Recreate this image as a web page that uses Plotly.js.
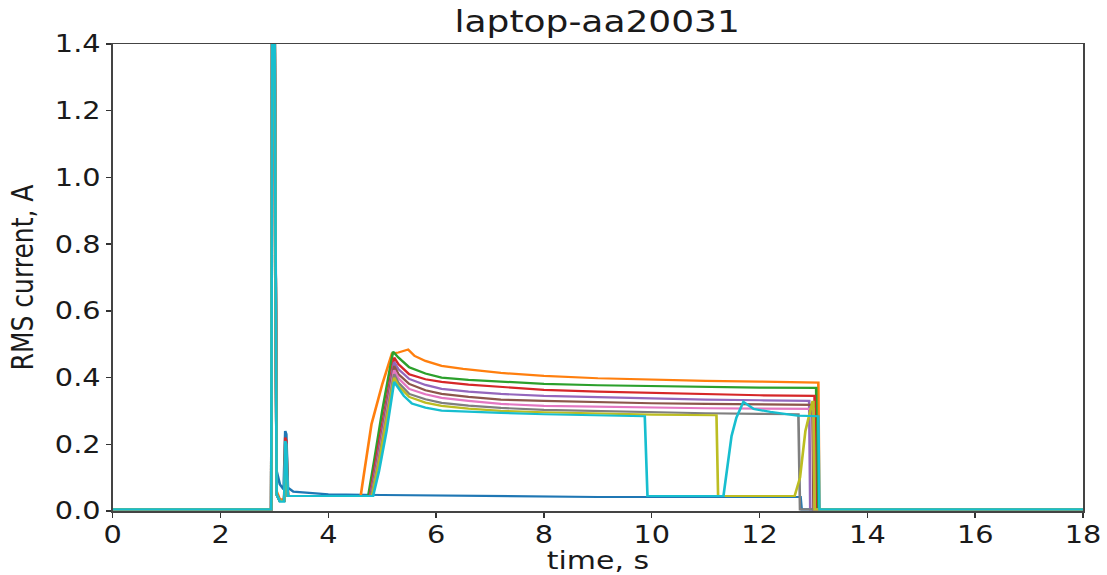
<!DOCTYPE html>
<html>
<head>
<meta charset="utf-8">
<script src="https://cdn.plot.ly/plotly-3.0.1.min.js"></script>
<style>
html,body{margin:0;padding:0;background:#fff;overflow:hidden;}
#wrap{width:1107px;height:575px;overflow:hidden;}
#chart{width:923px;height:575px;transform:scaleX(1.19935);transform-origin:0 0;}
</style>
</head>
<body>
<div id="wrap"><div id="chart"></div></div>
<script>
// ---- data (time in s, RMS current in A) ----
var seriesNames = ["blue","orange","green","red","purple","brown","pink","gray","olive","cyan"];
var seriesColors = ["#1f77b4","#ff7f0e","#2ca02c","#d62728","#9467bd","#8c564b","#e377c2","#7f7f7f","#bcbd22","#17becf"];

var t_blue = [0, 2.94, 2.96, 3.0, 3.04, 3.1, 3.17, 3.2, 3.22, 3.25, 3.35, 3.6, 4.0, 5.0, 6.0, 7.0, 8.0, 9.0, 10.0, 11.0, 12.0, 12.76, 12.78, 18];
var i_blue = [0.005, 0.005, 1.6, 1.6, 0.12, 0.08, 0.065, 0.24, 0.23, 0.07, 0.058, 0.055, 0.05, 0.048, 0.046, 0.045, 0.043, 0.042, 0.042, 0.042, 0.042, 0.042, 0.005, 0.005];

var t_orange = [0, 2.94, 2.96, 3.0, 3.04, 3.1, 3.18, 3.2, 3.22, 3.25, 3.4, 4.0, 4.6, 4.65, 4.8, 5.0, 5.18, 5.3, 5.42, 5.48, 5.6, 5.8, 6.1, 6.5, 7.2, 8.0, 9.0, 10.0, 11.0, 12.0, 12.5, 13.09, 13.11, 18];
var i_orange = [0.005, 0.005, 1.6, 1.6, 0.06, 0.035, 0.035, 0.2, 0.19, 0.045, 0.045, 0.045, 0.045, 0.1, 0.26, 0.38, 0.472, 0.475, 0.482, 0.484, 0.465, 0.45, 0.435, 0.426, 0.414, 0.405, 0.398, 0.393, 0.39, 0.388, 0.387, 0.385, 0.005, 0.005];

var t_green = [0, 2.94, 2.96, 3.0, 3.04, 3.1, 3.18, 3.2, 3.22, 3.25, 3.4, 4.0, 4.74, 4.85, 5.0, 5.2, 5.3, 5.5, 5.8, 6.1, 6.6, 7.2, 8.0, 9.0, 10.0, 11.0, 12.0, 13.05, 13.07, 18];
var i_green = [0.005, 0.005, 1.6, 1.6, 0.05, 0.03, 0.03, 0.17, 0.16, 0.045, 0.045, 0.045, 0.045, 0.15, 0.3, 0.478, 0.46, 0.431, 0.412, 0.40, 0.393, 0.388, 0.381, 0.377, 0.374, 0.372, 0.37, 0.369, 0.005, 0.005];

var t_red = [0, 2.94, 2.96, 3.0, 3.04, 3.1, 3.18, 3.2, 3.22, 3.25, 3.4, 4.0, 4.77, 4.88, 5.05, 5.22, 5.3, 5.5, 5.8, 6.1, 6.6, 7.2, 8.0, 9.0, 10.0, 11.0, 12.0, 13.02, 13.04, 18];
var i_red = [0.005, 0.005, 1.6, 1.6, 0.05, 0.03, 0.03, 0.22, 0.21, 0.045, 0.045, 0.045, 0.045, 0.15, 0.3, 0.46, 0.44, 0.41, 0.395, 0.387, 0.379, 0.372, 0.363, 0.358, 0.354, 0.35, 0.347, 0.345, 0.005, 0.005];

var t_purple = [0, 2.94, 2.96, 3.0, 3.04, 3.1, 3.18, 3.2, 3.22, 3.25, 3.4, 4.0, 4.78, 4.9, 5.05, 5.22, 5.3, 5.5, 5.8, 6.1, 6.6, 7.2, 8.0, 9.0, 10.0, 11.0, 12.0, 12.92, 12.94, 18];
var i_purple = [0.005, 0.005, 1.6, 1.6, 0.05, 0.03, 0.03, 0.15, 0.14, 0.045, 0.045, 0.045, 0.045, 0.15, 0.29, 0.447, 0.425, 0.396, 0.378, 0.366, 0.358, 0.351, 0.345, 0.341, 0.337, 0.334, 0.332, 0.33, 0.005, 0.005];

var t_brown = [0, 2.94, 2.96, 3.0, 3.04, 3.1, 3.18, 3.2, 3.22, 3.25, 3.4, 4.0, 4.79, 4.9, 5.05, 5.22, 5.3, 5.5, 5.8, 6.1, 6.6, 7.2, 8.0, 9.0, 10.0, 11.0, 12.0, 12.98, 13.0, 18];
var i_brown = [0.005, 0.005, 1.6, 1.6, 0.05, 0.03, 0.03, 0.16, 0.15, 0.045, 0.045, 0.045, 0.045, 0.14, 0.28, 0.435, 0.41, 0.381, 0.362, 0.351, 0.342, 0.334, 0.33, 0.326, 0.323, 0.321, 0.319, 0.318, 0.005, 0.005];

var t_pink = [0, 2.94, 2.96, 3.0, 3.04, 3.1, 3.18, 3.2, 3.22, 3.25, 3.4, 4.0, 4.8, 4.9, 5.05, 5.22, 5.3, 5.5, 5.8, 6.1, 6.6, 7.2, 8.0, 9.0, 10.0, 11.0, 12.0, 13.0, 13.02, 18];
var i_pink = [0.005, 0.005, 1.6, 1.6, 0.05, 0.03, 0.03, 0.14, 0.13, 0.045, 0.045, 0.045, 0.045, 0.13, 0.27, 0.422, 0.398, 0.366, 0.35, 0.339, 0.33, 0.321, 0.315, 0.312, 0.31, 0.308, 0.307, 0.306, 0.005, 0.005];

var t_gray = [0, 2.94, 2.96, 3.0, 3.04, 3.1, 3.18, 3.2, 3.22, 3.25, 3.4, 4.0, 4.8, 4.91, 5.06, 5.22, 5.3, 5.5, 5.8, 6.1, 6.6, 7.2, 8.0, 9.0, 10.0, 11.0, 12.0, 12.72, 12.75, 18];
var i_gray = [0.005, 0.005, 1.6, 1.6, 0.05, 0.03, 0.03, 0.13, 0.12, 0.045, 0.045, 0.045, 0.045, 0.13, 0.26, 0.41, 0.385, 0.351, 0.335, 0.324, 0.316, 0.309, 0.303, 0.299, 0.296, 0.293, 0.291, 0.29, 0.005, 0.005];

var t_olive = [0, 2.94, 2.96, 3.0, 3.04, 3.1, 3.18, 3.2, 3.22, 3.25, 3.4, 4.0, 4.81, 4.92, 5.07, 5.22, 5.3, 5.5, 5.8, 6.1, 6.6, 7.2, 8.0, 9.0, 10.0, 11.2, 11.23, 12.0, 12.65, 12.75, 12.85, 12.98, 13.0, 13.02, 18];
var i_olive = [0.005, 0.005, 1.6, 1.6, 0.05, 0.03, 0.03, 0.12, 0.11, 0.045, 0.045, 0.045, 0.045, 0.13, 0.26, 0.40, 0.375, 0.342, 0.325, 0.315, 0.307, 0.30, 0.296, 0.292, 0.289, 0.287, 0.045, 0.045, 0.045, 0.1, 0.24, 0.327, 0.327, 0.005, 0.005];

var t_cyan = [0, 2.94, 2.96, 3.0, 3.04, 3.1, 3.18, 3.2, 3.22, 3.25, 3.4, 4.0, 4.83, 4.94, 5.08, 5.22, 5.3, 5.4, 5.55, 5.8, 6.1, 6.6, 7.2, 8.0, 9.0, 9.87, 9.92, 11.0, 11.33, 11.48, 11.57, 11.7, 11.89, 12.2, 12.7, 13.09, 13.11, 18];
var i_cyan = [0.005, 0.005, 1.6, 1.6, 0.05, 0.028, 0.028, 0.21, 0.2, 0.045, 0.045, 0.045, 0.045, 0.12, 0.24, 0.387, 0.37, 0.345, 0.322, 0.31, 0.301, 0.297, 0.294, 0.29, 0.287, 0.284, 0.045, 0.045, 0.045, 0.225, 0.28, 0.327, 0.306, 0.297, 0.286, 0.284, 0.005, 0.005];

var xTicks = [0, 2, 4, 6, 8, 10, 12, 14, 16, 18];
var yTicks = [0.0, 0.2, 0.4, 0.6, 0.8, 1.0, 1.2, 1.4];
var yTickText = ["0.0", "0.2", "0.4", "0.6", "0.8", "1.0", "1.2", "1.4"];

var seriesT = [t_blue, t_orange, t_green, t_red, t_purple, t_brown, t_pink, t_gray, t_olive, t_cyan];
var seriesI = [i_blue, i_orange, i_green, i_red, i_purple, i_brown, i_pink, i_gray, i_olive, i_cyan];

var traces = seriesNames.map(function (n, k) {
  return {
    x: seriesT[k], y: seriesI[k], name: n, type: 'scatter', mode: 'lines',
    line: {color: seriesColors[k], width: 2.2}, hoverinfo: 'skip'
  };
});

var font = "DejaVu Sans, sans-serif";
var layout = {
  width: 923, height: 575,
  margin: {l: 94, r: 20, t: 44, b: 64},
  paper_bgcolor: '#ffffff', plot_bgcolor: '#ffffff',
  showlegend: false,
  font: {family: font, color: '#1a1a1a', size: 24},
  title: {text: 'laptop-aa20031', font: {family: font, size: 30, color: '#1a1a1a'},
          x: 0.5395, xanchor: 'center', y: 0.962, yref: 'container', yanchor: 'middle'},
  xaxis: {
    range: [0, 18], tickvals: xTicks, ticks: 'outside', ticklen: 5, tickwidth: 1.2,
    tickcolor: '#333', showgrid: false, zeroline: false, showline: true, mirror: true,
    linecolor: '#444', linewidth: 1.5, tickfont: {family: font, size: 24, color: '#1a1a1a'},
    ticklabelstandoff: -3,
    title: {text: 'time, s', font: {family: font, size: 25, color: '#1a1a1a'}, standoff: 6}
  },
  yaxis: {
    range: [0, 1.4], tickvals: yTicks, ticktext: yTickText, ticks: 'outside', ticklen: 4, tickwidth: 1.3,
    tickcolor: '#333', showgrid: false, zeroline: false, showline: true, mirror: true,
    linecolor: '#444', linewidth: 1.3, tickfont: {family: font, size: 24, color: '#1a1a1a'},
    title: {text: 'RMS current, A', font: {family: font, size: 25, color: '#1a1a1a'}, standoff: 10}
  }
};

Plotly.newPlot('chart', traces, layout, {staticPlot: true, displayModeBar: false});
</script>
</body>
</html>
